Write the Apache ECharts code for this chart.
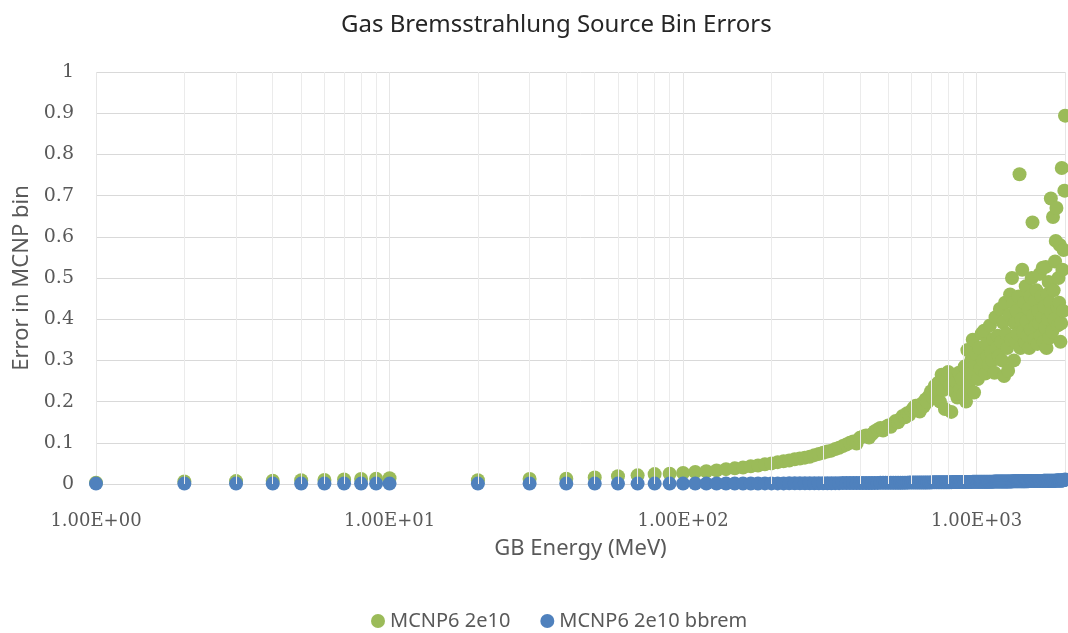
<!DOCTYPE html>
<html>
<head>
<meta charset="utf-8">
<script src="https://cdn.jsdelivr.net/npm/echarts@6/dist/echarts.min.js"></script>
<style>html,body{margin:0;padding:0;background:#fff}#c{width:1068px;height:633px}</style>
</head>
<body>
<div id="c"></div>
<script>
// Energies (MeV)
var energiesLow = [1,2,3,4,5,6,7,8,9,10,20,30,40,50,60,70,80,90,100];
var energiesMid = [110,120,130,140,150,160,170,180,190,200,210,220,230,240,250,260,270,280,290,300,
  310,320,330,340,350,360,370,380,390,400,410,420,430,440,450,460,470,480,490,500,
  510,520,530,540,550,560,570,580,590,600,610,620,630,640,650,660,670,680,690,700,
  710,720,730,740,750,760,770,780,790,800,810,820,830,840,850,860,870,880,890,900,
  910,920,930,940,950,960,970,980,990,1000];
var energiesHigh = [1010,1020,1030,1040,1050,1060,1070,1080,1090,1100,1110,1120,1130,1140,1150,1160,1170,1180,1190,1200,
  1210,1220,1230,1240,1250,1260,1270,1280,1290,1300,1310,1320,1330,1340,1350,1360,1370,1380,1390,1400,
  1410,1420,1430,1440,1450,1460,1470,1480,1490,1500,1510,1520,1530,1540,1550,1560,1570,1580,1590,1600,
  1610,1620,1630,1640,1650,1660,1670,1680,1690,1700,1710,1720,1730,1740,1750,1760,1770,1780,1790,1800,
  1810,1820,1830,1840,1850,1860,1870,1880,1890,1900,1910,1920,1930,1940,1950,1960,1970,1980,1990,2000];

// MCNP6 2e10 errors
var greenLow = [0.003,0.006,0.007,0.008,0.009,0.010,0.011,0.012,0.013,0.014,
  0.009,0.012,0.013,0.016,0.019,0.021,0.024,0.025,0.027];
var greenMid = [0.029,0.031,0.033,0.036,0.038,0.040,0.043,0.045,0.048,0.050,
  0.053,0.055,0.057,0.060,0.062,0.064,0.066,0.070,0.073,0.076,
  0.079,0.081,0.085,0.088,0.092,0.096,0.100,0.103,0.098,0.112,
  0.115,0.118,0.113,0.121,0.128,0.132,0.136,0.130,0.138,0.142,
  0.139,0.147,0.153,0.150,0.158,0.165,0.162,0.172,0.168,0.178,
  0.185,0.190,0.182,0.176,0.195,0.188,0.205,0.199,0.215,0.225,
  0.210,0.238,0.218,0.246,0.200,0.265,0.228,0.182,0.255,0.272,
  0.240,0.175,0.262,0.225,0.248,0.210,0.270,0.232,0.255,0.218,
  0.285,0.200,0.325,0.245,0.268,0.302,0.350,0.222,0.290,0.315];
var greenHigh = [0.255,0.330,0.280,0.365,0.300,0.372,0.268,0.340,0.310,0.290,
  0.385,0.320,0.300,0.352,0.270,0.405,0.330,0.360,0.310,0.425,
  0.345,0.300,0.392,0.262,0.440,0.365,0.330,0.275,0.410,0.460,
  0.350,0.500,0.440,0.300,0.390,0.345,0.420,0.365,0.455,0.752,
  0.330,0.400,0.520,0.370,0.440,0.345,0.480,0.395,0.360,0.425,
  0.330,0.455,0.375,0.500,0.635,0.410,0.350,0.445,0.385,0.470,
  0.340,0.420,0.390,0.510,0.360,0.455,0.405,0.525,0.345,0.430,
  0.380,0.527,0.330,0.460,0.400,0.490,0.355,0.440,0.693,0.415,
  0.370,0.648,0.470,0.400,0.540,0.590,0.670,0.430,0.385,0.500,
  0.440,0.580,0.345,0.390,0.767,0.520,0.420,0.568,0.712,0.894];

// MCNP6 2e10 bbrem errors
var blueLow = [0.001,0.001,0.001,0.001,0.001,0.001,0.001,0.001,0.001,0.001,
  0.001,0.001,0.001,0.001,0.001,0.001,0.001,0.001,0.001];
var blueMid = [0.0010,0.0010,0.0011,0.0012,0.0012,0.0012,0.0013,0.0013,0.0014,0.0014,
  0.0015,0.0015,0.0016,0.0016,0.0017,0.0017,0.0018,0.0018,0.0019,0.0019,
  0.0020,0.0020,0.0021,0.0021,0.0022,0.0022,0.0023,0.0023,0.0024,0.0024,
  0.0025,0.0025,0.0026,0.0026,0.0027,0.0027,0.0028,0.0028,0.0029,0.0029,
  0.0030,0.0030,0.0031,0.0031,0.0032,0.0032,0.0033,0.0033,0.0034,0.0034,
  0.0035,0.0035,0.0036,0.0036,0.0037,0.0037,0.0038,0.0038,0.0039,0.0039,
  0.0040,0.0040,0.0041,0.0041,0.0042,0.0042,0.0043,0.0043,0.0044,0.0044,
  0.0045,0.0045,0.0046,0.0046,0.0047,0.0047,0.0048,0.0048,0.0049,0.0049,
  0.0050,0.0050,0.0050,0.0051,0.0051,0.0051,0.0052,0.0052,0.0052,0.0053];
var blueHigh = [0.0053,0.0053,0.0054,0.0054,0.0054,0.0055,0.0055,0.0055,0.0056,0.0056,
  0.0056,0.0057,0.0057,0.0057,0.0058,0.0058,0.0058,0.0059,0.0059,0.0059,
  0.0060,0.0060,0.0060,0.0061,0.0061,0.0061,0.0062,0.0062,0.0062,0.0063,
  0.0063,0.0063,0.0064,0.0064,0.0064,0.0065,0.0065,0.0065,0.0066,0.0066,
  0.0066,0.0067,0.0067,0.0067,0.0068,0.0068,0.0068,0.0069,0.0069,0.0069,
  0.0070,0.0070,0.0070,0.0071,0.0071,0.0071,0.0072,0.0072,0.0072,0.0073,
  0.0073,0.0073,0.0074,0.0074,0.0074,0.0075,0.0075,0.0075,0.0076,0.0076,
  0.0076,0.0077,0.0077,0.0077,0.0078,0.0078,0.0078,0.0079,0.0079,0.0079,
  0.0080,0.0080,0.0080,0.0081,0.0081,0.0081,0.0082,0.0082,0.0083,0.0083,
  0.0084,0.0084,0.0085,0.0085,0.0086,0.0087,0.0088,0.0090,0.0095,0.0110];

// Minor log gridline values
var minorTicks = [2,3,4,5,6,7,8,9,20,30,40,50,60,70,80,90,200,300,400,500,600,700,800,900];

var energies = energiesLow.concat(energiesMid, energiesHigh);
var green = greenLow.concat(greenMid, greenHigh);
var blue = blueLow.concat(blueMid, blueHigh);
function pairs(xs, ys){ var out=[]; for (var i=0;i<xs.length;i++) out.push([xs[i], ys[i]]); return out; }

function fmtExp(v){
  var e = Math.round(Math.log10(v));
  if (Math.abs(Math.log10(v) - e) > 1e-6) return '';
  var m = v / Math.pow(10, e);
  return m.toFixed(2) + 'E' + (e < 0 ? '-' : '+') + String(Math.abs(e)).padStart(2, '0');
}

var chart = echarts.init(document.getElementById('c'), null, {renderer:'canvas'});
chart.setOption({
  animation: false,
  backgroundColor: '#ffffff',
  title: {
    text: 'Gas Bremsstrahlung Source Bin Errors',
    left: 336, top: 8,
    textStyle: {fontFamily: 'Noto Sans', fontSize: 24, fontWeight: 'normal', color: '#262626'}
  },
  legend: {
    top: 606, left: 366,
    icon: 'circle', itemWidth: 14, itemHeight: 14, itemGap: 30,
    textStyle: {fontFamily: 'Noto Sans', fontSize: 20, color: '#595959'},
    data: ['MCNP6 2e10', 'MCNP6 2e10 bbrem']
  },
  grid: {left: 96, right: 2, top: 72, bottom: 149, containLabel: false},
  xAxis: {
    type: 'log', logBase: 10, min: 1, max: 2000,
    name: 'GB Energy (MeV)', nameLocation: 'middle', nameGap: 54,
    nameTextStyle: {fontFamily: 'Noto Sans', fontSize: 22, color: '#595959'},
    axisLine: {show: true, onZero: false, lineStyle: {color: '#d9d9d9', width: 1}},
    axisTick: {show: false},
    axisLabel: {fontFamily: 'DejaVu Serif', fontSize: 18, color: '#595959', margin: 28, formatter: fmtExp},
    splitLine: {show: true, lineStyle: {color: '#e6e6e6', width: 1}}
  },
  yAxis: {
    type: 'value', min: 0, max: 1, interval: 0.1,
    name: 'Error in MCNP bin', nameLocation: 'middle', nameGap: 63, nameRotate: 90,
    nameTextStyle: {fontFamily: 'Noto Sans', fontSize: 22, color: '#595959'},
    axisLine: {show: false}, axisTick: {show: false},
    axisLabel: {fontFamily: 'DejaVu Serif', fontSize: 19, color: '#595959', margin: 22,
      formatter: function(v){ return String(Math.round(v*10)/10); }},
    splitLine: {show: true, lineStyle: {color: '#d9d9d9', width: 1}}
  },
  series: [
    {
      name: 'minor-grid', type: 'scatter', z: 1, silent: true,
      data: [[1, 0]], symbolSize: 0, legendHoverLink: false,
      markLine: {
        silent: true, symbol: ['none','none'], label: {show: false},
        lineStyle: {color: '#ebebeb', width: 1, type: 'solid'},
        data: minorTicks.map(function(t){ return {xAxis: t}; })
      }
    },
    {
      name: 'MCNP6 2e10', type: 'scatter', z: 3,
      symbol: 'circle', symbolSize: 14,
      itemStyle: {color: '#9BBB59', opacity: 1},
      data: pairs(energies, green)
    },
    {
      name: 'MCNP6 2e10 bbrem', type: 'scatter', z: 4,
      symbol: 'circle', symbolSize: 14,
      itemStyle: {color: '#4F81BD', opacity: 1},
      data: pairs(energies, blue)
    }
  ]
});
</script>
</body>
</html>
